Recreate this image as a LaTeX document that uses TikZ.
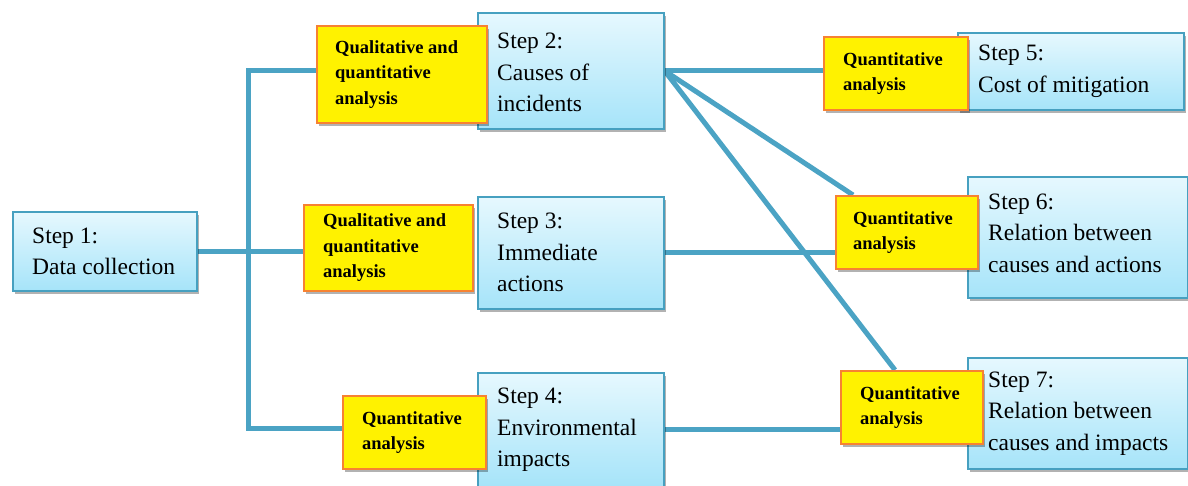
\documentclass[tikz,border=0pt]{standalone}
\usepackage{fontspec}
\setmainfont{Liberation Serif}
\usetikzlibrary{shadows}
\pgfdeclarelayer{bg}
\pgfsetlayers{bg,main}
\definecolor{linec}{RGB}{75,163,196}
\definecolor{bord}{RGB}{70,160,192}
\definecolor{btop}{RGB}{230,248,254}
\definecolor{bbot}{RGB}{166,228,249}
\definecolor{ybord}{RGB}{247,130,50}
\tikzset{
  stepbox/.style={draw=bord, line width=1.6pt, top color=btop, bottom color=bbot,
    rectangle, inner sep=0pt, anchor=north west,
    drop shadow={shadow xshift=2pt, shadow yshift=-3pt, opacity=0.3, fill=black}},
  anbox/.style={draw=ybord, line width=1.8pt, fill=yellow,
    rectangle, inner sep=0pt, anchor=north west,
    drop shadow={shadow xshift=2pt, shadow yshift=-3pt, opacity=0.3, fill=black}},
  steptext/.style={align=left, inner sep=0pt, anchor=west,
    font=\fontsize{23.5}{31.5}\selectfont},
  antext/.style={align=left, inner sep=0pt, anchor=west,
    font=\bfseries\fontsize{18.5}{25.5}\selectfont},
  link/.style={draw=linec, line width=5pt}
}
\begin{document}
\begin{tikzpicture}[x=1pt,y=-1pt]
\useasboundingbox (0,0) rectangle (1188,485);
% Step 1
\node[stepbox, minimum width=184pt, minimum height=79pt] (s1) at (12,211) {};
\node[steptext] (t1) at ([xshift=20pt]s1.west) {Step 1:\\Data collection};
% Step 2
\node[stepbox, minimum width=186pt, minimum height=116pt] (b2) at (477,12) {};
\node[steptext] (t2) at ([xshift=20pt,yshift=-2pt]b2.west) {Step 2:\\Causes of\\incidents};
\node[anbox, minimum width=170pt, minimum height=97pt] (y2) at (316,25) {};
\node[antext] (u2) at ([xshift=19pt]y2.west) {Qualitative and\\quantitative\\analysis};
% Step 3
\node[stepbox, minimum width=186pt, minimum height=112pt] (b3) at (477,196) {};
\node[steptext] (t3) at ([xshift=20pt]b3.west) {Step 3:\\Immediate\\actions};
\node[anbox, minimum width=169pt, minimum height=86pt] (y3) at (303,204) {};
\node[antext] (u3) at ([xshift=20pt]y3.west) {Qualitative and\\quantitative\\analysis};
% Step 4
\node[stepbox, minimum width=186pt, minimum height=114pt] (b4) at (477,372) {};
\node[steptext] (t4) at ([xshift=20pt]b4.west) {Step 4:\\Environmental\\impacts};
\node[anbox, minimum width=143pt, minimum height=73pt] (y4) at (342,395) {};
\node[antext] (u4) at ([xshift=20pt]y4.west) {Quantitative\\analysis};
% Step 5
\node[stepbox, minimum width=226pt, minimum height=77pt] (b5) at (957,32) {};
\node[steptext] (t5) at ([xshift=21pt]b5.west) {Step 5:\\Cost of mitigation};
\node[anbox, minimum width=144pt, minimum height=73pt] (y5) at (823,36) {};
\node[antext] (u5) at ([xshift=20pt]y5.west) {Quantitative\\analysis};
% Step 6
\node[stepbox, minimum width=220pt, minimum height=121pt] (b6) at (967,176) {};
\node[steptext] (t6) at ([xshift=21pt,yshift=4pt]b6.west) {Step 6:\\Relation between\\causes and actions};
\node[anbox, minimum width=142pt, minimum height=73pt] (y6) at (835,195) {};
\node[antext] (u6) at ([xshift=18pt]y6.west) {Quantitative\\analysis};
% Step 7
\node[stepbox, minimum width=220pt, minimum height=111pt] (b7) at (967,357) {};
\node[steptext] (t7) at ([xshift=21pt]b7.west) {Step 7:\\Relation between\\causes and impacts};
\node[anbox, minimum width=142pt, minimum height=73pt] (y7) at (840,370) {};
\node[antext] (u7) at ([xshift=20pt]y7.west) {Quantitative\\analysis};
% trunk coordinates
\coordinate (jt) at (248,70);
\coordinate (jb) at (248,428);
\begin{pgfonlayer}{bg}
\draw[link] (jt -| y2.west) -- (jt) -- (jb) -- (jb -| y4.west);
\draw[link] (s1.east) -- (s1.east -| y3.west);
\draw[link] (b2.east) -- (b2.east -| y5.west);
\draw[link] (b2.east) -- ([xshift=18pt]y6.north west);
\draw[link] (b2.east) -- ([xshift=55pt]y7.north west);
\draw[link] (b3.east) -- (b3.east -| y6.west);
\draw[link] (b4.east) -- (b4.east -| y7.west);
\end{pgfonlayer}
\end{tikzpicture}
\end{document}
